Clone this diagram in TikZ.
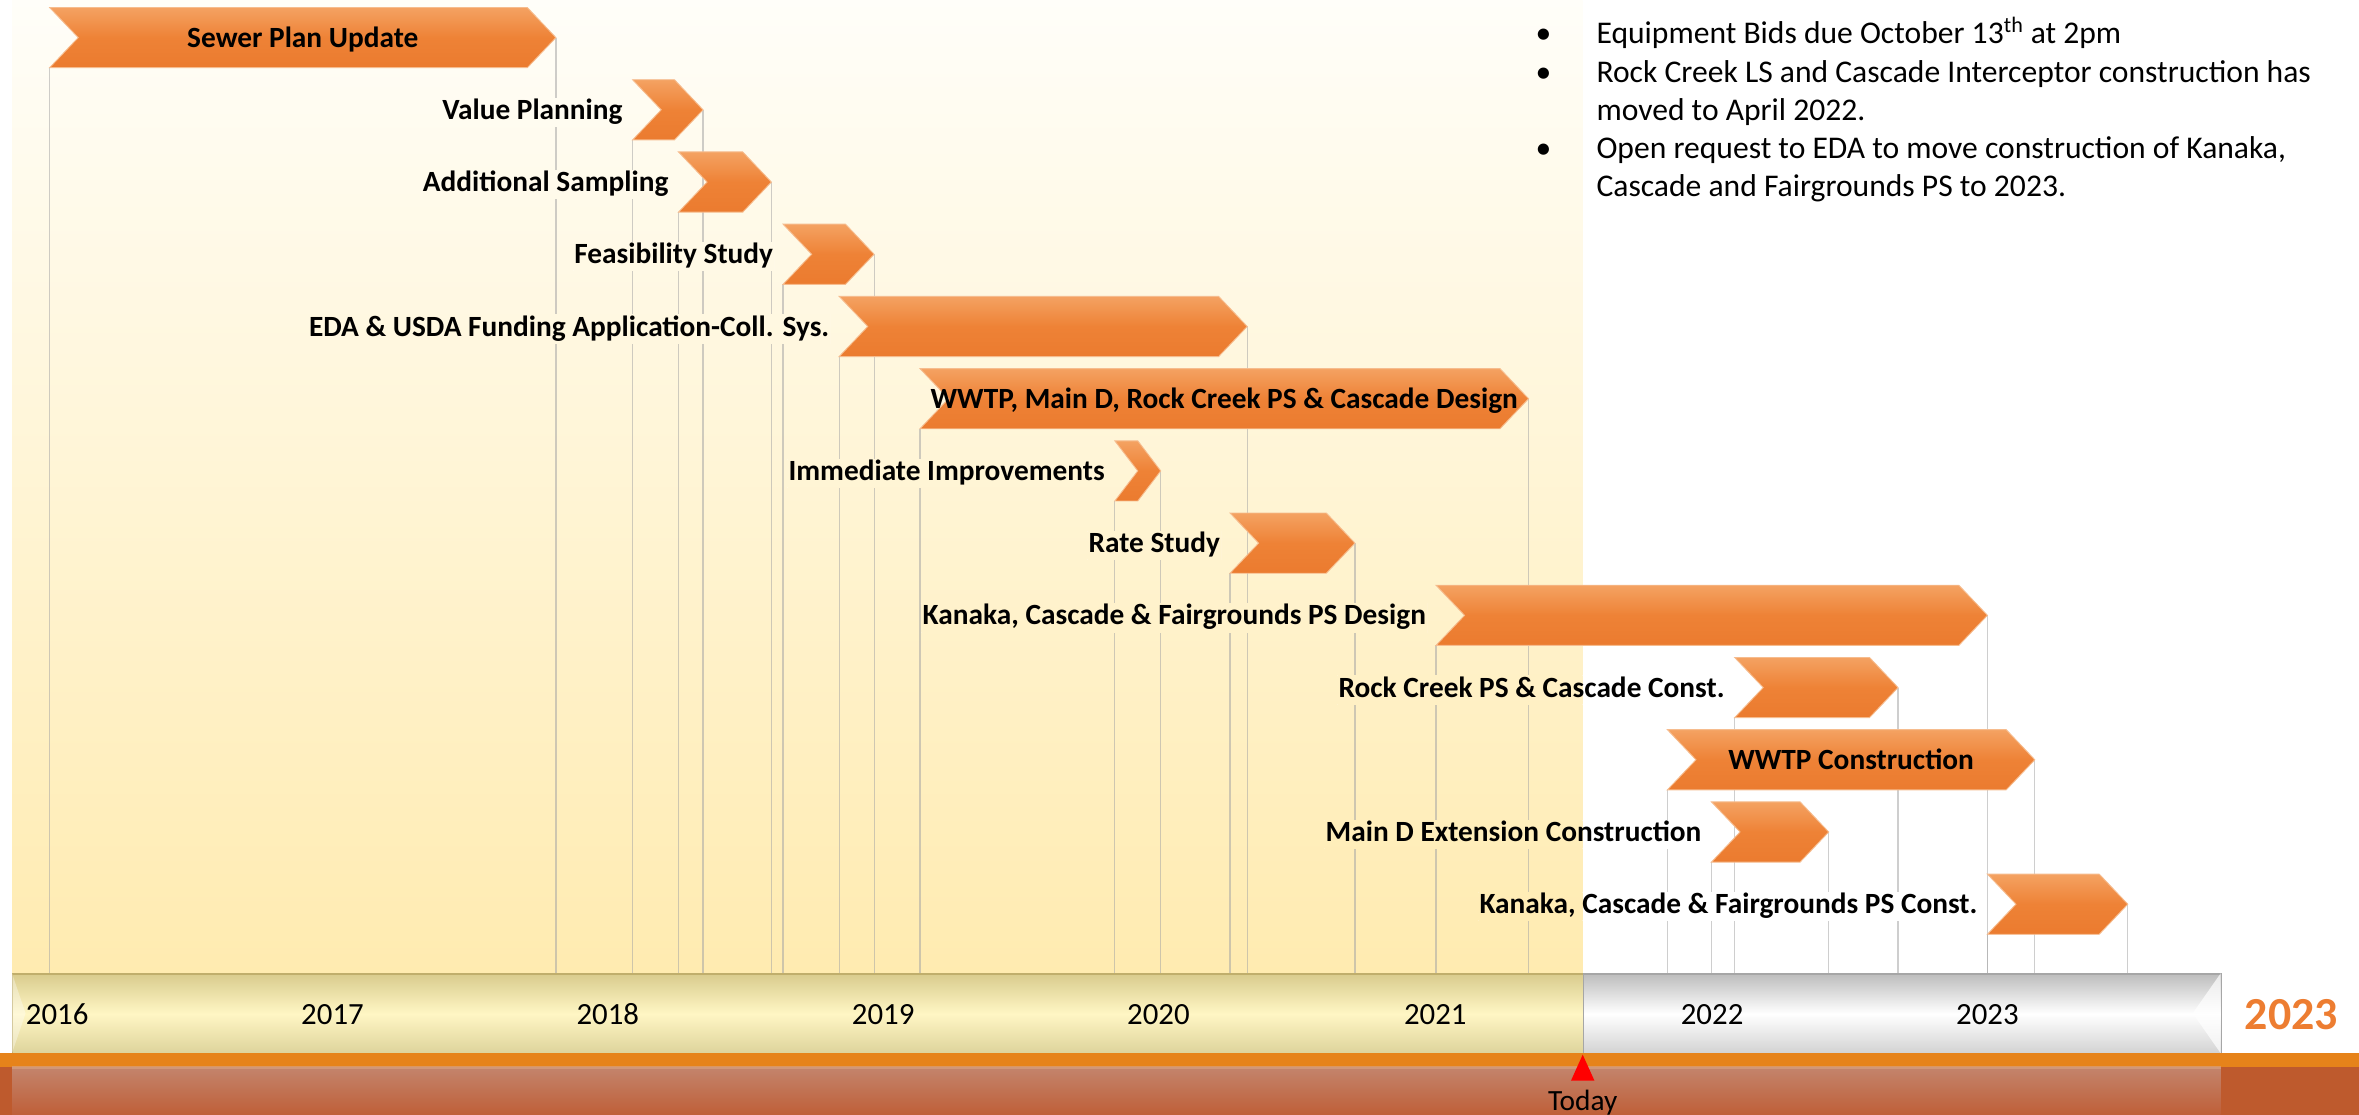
\documentclass[tikz,border=0pt]{standalone}
\usepackage{fontspec}
\setmainfont{Carlito}
\usetikzlibrary{calc}
\pgfdeclarelayer{bg}
\pgfdeclarelayer{lines}
\pgfdeclarelayer{lblbg}
\pgfsetlayers{bg,lines,lblbg,main}

\definecolor{creamT}{HTML}{FFFEF9}
\definecolor{creamB}{HTML}{FFEBB0}
\definecolor{chevT}{HTML}{F4A262}
\definecolor{chevM}{HTML}{EE8236}
\definecolor{chevB}{HTML}{EB7B2F}
\definecolor{chevE}{HTML}{F6BC8E}
\definecolor{barLT}{HTML}{D9CC8E}
\definecolor{barLM}{HTML}{FFF6C4}
\definecolor{barLB}{HTML}{DDD39B}
\definecolor{barLE}{HTML}{C0AE6C}
\definecolor{barRT}{HTML}{BDBDBD}
\definecolor{barRB}{HTML}{D2D2D2}
\definecolor{barRE}{HTML}{A6A6A6}
\definecolor{orangeS}{HTML}{E6831A}
\definecolor{brownB}{HTML}{BE5A2D}
\definecolor{ovT}{HTML}{C3846C}
\definecolor{ovB}{HTML}{BF5F38}
\definecolor{ovLine}{HTML}{D8A07E}
\definecolor{bigOrange}{HTML}{ED7D31}

\newcommand\drawbg{%
  \fill[white] (0,0) rectangle (1568,741);
  \shade[top color=creamT, bottom color=creamB] (8,0) rectangle (1052,647);
}

\newcommand\mychev[4]{%
  \pgfmathsetmacro\chd{min(19,(#3-#2)/2)}%
  \pgfmathsetmacro\chT{#4-20}%
  \pgfmathsetmacro\chB{#4+20}%
  \path[chevfill] (#2,\chT) -- ({#3-\chd},\chT) -- (#3,#4) -- ({#3-\chd},\chB) -- (#2,\chB) -- ({#2+\chd},#4) -- cycle;
  \coordinate (#1-s) at (#2,\chB);
  \coordinate (#1-t) at (#3,#4);
  \coordinate (#1-w) at (#2,#4);
  \coordinate (#1-c) at ({(#2+#3)/2},#4);
}

\tikzset{
  chevfill/.style={top color=chevT, bottom color=chevB, middle color=chevM, draw=chevE, line width=0.6pt, line join=miter},
  vline/.style={draw=gray!70, draw opacity=0.55, line width=0.8pt},
  lbl/.style={font=\fontsize{19.5}{23}\selectfont\bfseries, inner sep=0.5pt, text height=13.5pt, text depth=4pt},
  inlbl/.style={font=\fontsize{19.5}{23}\selectfont\bfseries, inner sep=0pt},
  yearlbl/.style={font=\fontsize{20.5}{24}\selectfont, inner sep=0pt},
  btxt/.style={font=\fontsize{21}{25}\selectfont, inner sep=0pt},
  barLs/.style={top color=barLT, bottom color=barLB, middle color=barLM, draw=barLE, line width=0.8pt, inner sep=0pt},
  barRs/.style={top color=barRT, bottom color=barRB, middle color=white, draw=barRE, line width=0.8pt, inner sep=0pt},
}

\begin{document}
\begin{tikzpicture}[x=1pt,y=-1pt]
\useasboundingbox (0,0) rectangle (1568,741);

\begin{pgfonlayer}{bg}
  \drawbg
  \node[barLs, anchor=north west, minimum width=1044pt, minimum height=53pt] (barL) at (8,647) {};
  \node[barRs, anchor=north west, minimum width=424pt, minimum height=53pt] (barR) at (1052,647) {};
  \fill[white, opacity=0.35] (8,647) -- (17,673.5) -- (8,700) -- cycle;
  \fill[white, opacity=0.7] (1476,647) -- (1457.5,673.5) -- (1476,700) -- cycle;
  \fill[orangeS] (0,700) rectangle (1568,709.5);
  \fill[brownB] (0,709.5) rectangle (1568,741);
  \shade[top color=ovT, bottom color=ovB] (8,709.5) rectangle (1476,741);
  \fill[ovLine, opacity=0.7] (8,708.5) rectangle (1476,710.5);
\end{pgfonlayer}

% chevrons
\mychev{sp}{33}{369.5}{25}
\mychev{vp}{420.5}{467.3}{73}
\mychev{as}{451}{512.7}{121}
\mychev{fs}{520.5}{581}{169}
\mychev{eda}{557.8}{829}{217}
\mychev{wd}{611.5}{1016}{265}
\mychev{ii}{741}{771.5}{313}
\mychev{rs}{817.6}{900.6}{361}
\mychev{kd}{954.5}{1321}{409}
\mychev{rc}{1153}{1261.6}{457}
\mychev{wc}{1108.3}{1352.5}{505}
\mychev{md}{1137.6}{1215.5}{553}
\mychev{kc}{1321}{1414.3}{601}

% labels inside chevrons
\node[inlbl, anchor=base] (l1) at ([shift={(0,6.4)}]sp-c) {Sewer Plan Update};
\node[inlbl, anchor=base] (l6) at ([shift={(0,6.4)}]wd-c) {WWTP, Main D, Rock Creek PS \& Cascade Design};
\node[inlbl, anchor=base] (l11) at ([shift={(0,6.4)}]wc-c) {WWTP Construction};

% labels left of chevrons
\node[lbl, anchor=base east] (l2) at ([shift={(-6,6.4)}]vp-w) {Value Planning};
\node[lbl, anchor=base east] (l3) at ([shift={(-6,6.4)}]as-w) {Additional Sampling};
\node[lbl, anchor=base east] (l4) at ([shift={(-6,6.4)}]fs-w) {Feasibility Study};
\node[lbl, anchor=base east] (l5) at ([shift={(-6,6.4)}]eda-w) {EDA \& USDA Funding Application-Coll. Sys.};
\node[lbl, anchor=base east] (l7) at ([shift={(-6,6.4)}]ii-w) {Immediate Improvements};
\node[lbl, anchor=base east] (l8) at ([shift={(-6,6.4)}]rs-w) {Rate Study};
\node[lbl, anchor=base east] (l9) at ([shift={(-6,6.4)}]kd-w) {Kanaka, Cascade \& Fairgrounds PS Design};
\node[lbl, anchor=base east] (l10) at ([shift={(-6,6.4)}]rc-w) {Rock Creek PS \& Cascade Const.};
\node[lbl, anchor=base east] (l12) at ([shift={(-6,6.4)}]md-w) {Main D Extension Construction};
\node[lbl, anchor=base east] (l13) at ([shift={(-6,6.4)}]kc-w) {Kanaka, Cascade \& Fairgrounds PS Const.};

% years
\foreach \yr/\xx in {2016/38,2017/221,2018/404,2019/587,2020/770,2021/954,2022/1138,2023/1321}
  \node[yearlbl, anchor=base] (yr\yr) at (\xx,681) {\yr};
\node[font=\fontsize{30.5}{34}\selectfont\bfseries, text=bigOrange, inner sep=0pt, anchor=base] (big2023) at (1523,684.6) {2023};

% today marker
\fill[red] (1052,701) -- (1059.8,718.3) -- (1044.2,718.3) -- cycle;
\node[font=\fontsize{19.5}{23}\selectfont, inner sep=0pt, anchor=base] (today) at (1052,738) {Today};

% bullet notes
\foreach \yy/\nm in {29,55,105.3}
  \node[btxt, anchor=base] at (1026,\yy) {\textbullet};
\node[btxt, anchor=base west] (t1) at (1061,29) {Equipment Bids due October 13\textsuperscript{th} at 2pm};
\node[btxt, anchor=base west] (t2) at (1061,55) {Rock Creek LS and Cascade Interceptor construction has};
\node[btxt, anchor=base west] (t3) at (1061,80) {moved to April 2022.};
\node[btxt, anchor=base west] (t4) at (1061,105.3) {Open request to EDA to move construction of Kanaka,};
\node[btxt, anchor=base west] (t5) at (1061,130.7) {Cascade and Fairgrounds PS to 2023.};

% guide lines
\begin{pgfonlayer}{lines}
  \foreach \n in {sp,vp,as,fs,eda,wd,ii,rs,kd,rc,wc,md,kc}{
    \draw[vline] (\n-s) -- (\n-s |- barL.north);
    \draw[vline] (\n-t) -- (\n-t |- barL.north);
  }
\end{pgfonlayer}

% label backgrounds interrupting the guide lines
\begin{pgfonlayer}{lblbg}
  \foreach \n in {l2,l3,l4,l5,l7,l8,l9,l10,l12,l13}{
    \begin{scope}
      \clip (\n.south west) rectangle (\n.north east);
      \drawbg
    \end{scope}
  }
\end{pgfonlayer}
\end{tikzpicture}
\end{document}
